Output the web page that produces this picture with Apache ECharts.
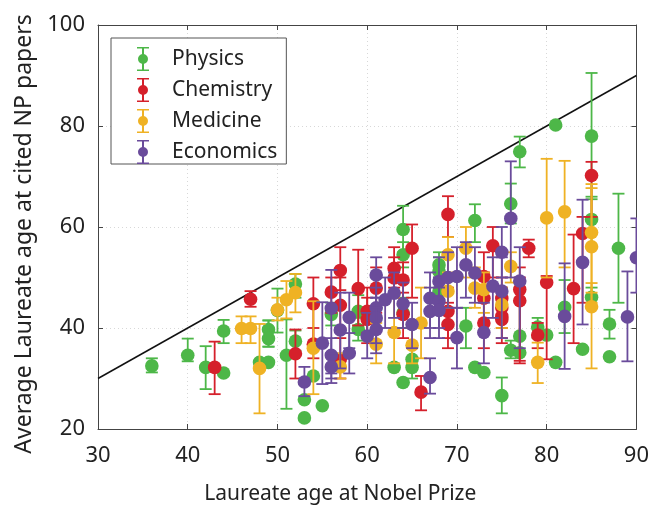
<!DOCTYPE html>
<html><head><meta charset="utf-8">
<script src="https://cdn.jsdelivr.net/npm/echarts@6/dist/echarts.min.js"></script>
<style>html,body{margin:0;padding:0;background:#fff}#c{width:652px;height:510px}</style>
</head><body><div id="c"></div>
<script>
// [age at prize, average age at cited papers, error low, error high]
const physics = [
[36,32.5,31.2,34.0],[40,34.6,33.4,37.9],[42,32.2,27.9,36.4],[44,31.1,31.1,31.1],[44,39.4,37.0,41.6],
[48,33.2,33.2,33.2],[49,33.2,33.2,33.2],[49,39.7,36.3,41.5],[49,37.9,36.3,41.5],[50,43.5,39.1,47.8],
[51,34.6,24.0,41.7],[52,48.7,46.0,50.7],[52,37.4,35.5,39.5],[53,25.8,25.8,25.8],[53,22.2,22.2,22.2],
[54,30.5,30.5,30.5],[55,24.6,24.6,24.6],[56,42.7,40.5,45.0],[59,43.3,40.5,46.5],[59,39.7,37.5,42.0],
[63,32.2,32.2,32.2],[64,29.2,29.2,29.2],[64,59.5,55.0,64.2],[64,54.5,52.0,57.0],[64,43.0,40.0,46.0],
[65,33.8,30.0,37.0],[65,32.2,32.2,32.2],[68,52.5,49.0,55.0],[68,51.2,49.0,54.0],[68,47.3,44.0,50.0],
[71,40.4,36.0,44.0],[72,61.3,57.0,64.5],[72,32.2,32.2,32.2],[73,31.2,31.2,31.2],[75,26.6,23.1,30.2],
[76,35.6,34.0,37.5],[76,64.6,60.7,68.6],[77,38.4,35.0,48.0],[77,35.1,35.1,35.1],[77,74.9,71.8,77.9],
[79,40.2,38.0,42.0],[80,38.6,38.6,38.6],[81,33.2,33.2,33.2],[81,80.2,80.2,80.2],[82,44.1,39.0,49.5],
[84,35.8,35.8,35.8],[85,46.1,44.0,48.0],[85,61.5,56.0,66.0],[85,78.0,65.5,90.5],[87,40.8,37.9,43.6],
[87,34.3,34.3,34.3],[88,55.8,45.0,66.6]
];
const chemistry = [
[43,32.2,26.9,37.3],[47,45.7,44.2,47.3],[52,34.9,30.0,39.7],[54,44.8,35.8,50.0],[54,36.8,34.0,40.0],
[56,47.1,43.0,50.0],[57,51.4,47.5,56.0],[57,44.5,40.0,50.0],[57,33.8,30.0,38.0],[59,47.8,40.5,55.5],
[60,43.3,39.0,48.0],[60,41.7,37.0,46.0],[61,47.9,43.0,52.0],[63,51.8,48.0,56.0],[63,49.9,46.0,54.0],
[64,49.5,45.0,53.0],[64,42.7,38.0,47.0],[65,55.8,46.0,60.5],[66,27.3,23.7,30.5],[69,62.5,58.0,66.1],
[69,43.3,38.0,48.0],[69,40.7,36.0,45.0],[73,50.2,46.0,55.0],[73,45.9,41.0,51.0],[73,41.0,36.0,46.0],
[74,56.3,50.0,60.0],[75,45.9,42.0,50.0],[75,44.0,40.0,48.0],[75,42.3,38.0,47.0],[75,41.7,37.0,46.0],
[77,47.6,33.0,52.0],[77,45.4,33.5,50.0],[78,55.8,54.0,57.5],[79,38.6,36.0,41.0],[80,49.0,33.8,50.3],
[83,47.8,37.0,58.5],[84,58.7,45.0,62.0],[85,70.2,62.0,72.9]
];
const medicine = [
[46,39.9,37.0,42.3],[47,39.9,37.0,42.3],[48,32.0,23.1,40.8],[50,43.6,41.5,46.0],[51,45.6,41.9,49.3],
[52,47.0,43.1,50.7],[54,36.0,26.9,45.3],[57,32.3,30.0,35.0],[61,36.8,33.0,41.0],[63,39.1,33.0,46.0],
[65,36.6,33.0,40.0],[66,41.0,34.0,48.0],[69,54.5,50.0,58.0],[69,47.3,44.0,51.0],[71,55.8,50.0,60.0],
[72,47.9,44.0,52.0],[73,47.6,43.0,51.0],[75,44.6,40.0,48.0],[76,52.2,49.0,55.0],[79,33.2,29.1,37.1],
[80,61.8,50.0,73.5],[82,63.0,52.0,73.1],[85,58.9,47.0,68.5],[85,56.1,45.0,67.7],[85,44.2,32.0,48.9]
];
const economics = [
[53,29.3,26.5,32.3],[55,37.0,28.9,45.1],[56,43.9,29.1,51.5],[56,34.6,31.0,38.0],[56,32.3,30.0,35.0],
[57,39.6,32.0,47.0],[58,42.1,36.0,47.0],[58,35.0,31.0,39.0],[60,38.4,34.0,43.0],[61,50.5,46.0,54.0],
[61,44.0,40.0,48.0],[61,42.0,37.0,46.0],[61,39.7,35.0,44.0],[62,45.6,40.0,50.0],[63,46.9,42.0,51.0],
[64,44.8,40.0,49.0],[65,40.7,36.0,45.0],[67,45.9,40.0,51.0],[67,43.3,38.0,48.0],[67,30.2,27.0,34.0],
[68,49.2,43.0,54.0],[68,45.3,40.0,50.0],[68,43.5,38.0,48.0],[69,50.0,44.0,55.0],[70,50.2,44.0,56.0],
[70,38.1,32.0,44.0],[71,52.5,46.0,57.0],[72,50.9,45.0,56.0],[73,39.1,33.0,45.0],[74,48.3,42.0,54.0],
[75,55.0,50.0,60.0],[75,47.3,38.0,54.0],[76,61.7,50.0,73.0],[77,49.3,36.0,56.0],[82,42.3,31.9,52.8],
[84,53.0,40.7,65.4],[89,42.2,33.4,51.2],[90,53.9,47.0,61.7]
];
const fields = ['Physics','Chemistry','Medicine','Economics'];
const fieldData = [physics, chemistry, medicine, economics];
const colors = ['#4db748','#d5202b','#efb224','#6a4b9b'];
const diagonal = [[30,30],[90,90]];
const xTicks = [30,90,10];
const yTicks = [20,100,20];

const FONT = 'Noto Sans';
const iconPath = 'path://M5 0h2v24h-2z M0 0h12v1.6h-12z M0 22.4h12v1.6h-12z M1 12A5 5 0 1 1 11 12A5 5 0 1 1 1 12Z';

function errRender(color){
  return function(params, api){
    const x = api.value(0), y = api.value(1), lo = api.value(2), hi = api.value(3);
    const p = api.coord([x,y]), pl = api.coord([x,lo]), ph = api.coord([x,hi]);
    const w = 6;
    const st = {stroke: color, lineWidth: 1.8};
    return {type:'group', children:[
      {type:'line', shape:{x1:p[0], y1:pl[1], x2:p[0], y2:ph[1]}, style:st},
      {type:'line', shape:{x1:p[0]-w, y1:pl[1], x2:p[0]+w, y2:pl[1]}, style:st},
      {type:'line', shape:{x1:p[0]-w, y1:ph[1], x2:p[0]+w, y2:ph[1]}, style:st},
      {type:'circle', shape:{cx:p[0], cy:p[1], r:6.8}, style:{fill:color}}
    ]};
  };
}

const chart = echarts.init(document.getElementById('c'), null, {renderer:'canvas'});
const series = [{
  type:'line', data: diagonal, symbol:'none', silent:true,
  lineStyle:{color:'#111', width:1.5}, z:1, animation:false
}];
fields.forEach((f,i)=>{
  series.push({
    name:f, type:'custom', data: fieldData[i], renderItem: errRender(colors[i]),
    encode:{x:0, y:[1,2,3]}, itemStyle:{color:colors[i]}, z:2+i, animation:false, clip:true
  });
});
const axisCommon = {
  axisLine:{show:true, onZero:false, lineStyle:{color:'#444', width:1}},
  axisTick:{show:true, inside:true, length:5, lineStyle:{color:'#444'}},
};
chart.setOption({
  animation:false,
  grid:{left:98, right:14, top:25, bottom:78},
  legend:{
    orient:'vertical', left:111, top:38,
    data: fields.map(f=>({name:f, icon:iconPath})),
    itemWidth:48, itemHeight:24, itemGap:7,
    padding:[9,9,0,26],
    borderColor:'#555', borderWidth:1, backgroundColor:'#fff',
    textStyle:{fontFamily:FONT, fontSize:21, color:'#222'}
  },
  xAxis:[{
    type:'value', min:xTicks[0], max:xTicks[1], interval:xTicks[2], position:'bottom',
    ...axisCommon,
    axisLabel:{fontFamily:FONT, fontSize:22, color:'#222', margin:16},
    splitLine:{show:true, lineStyle:{color:'#d8d8d8', type:[1,3], width:1}},
    name:'Laureate age at Nobel Prize', nameLocation:'middle', nameGap:55,
    nameTextStyle:{fontFamily:FONT, fontSize:21, color:'#222', padding:[0,54,0,0]}
  },{
    type:'value', min:xTicks[0], max:xTicks[1], interval:xTicks[2], position:'top',
    ...axisCommon, axisLabel:{show:false}, splitLine:{show:false}
  }],
  yAxis:[{
    type:'value', min:yTicks[0], max:yTicks[1], interval:yTicks[2], position:'left',
    ...axisCommon,
    axisLabel:{fontFamily:FONT, fontSize:22, color:'#222', margin:13},
    splitLine:{show:true, lineStyle:{color:'#d8d8d8', type:[1,3], width:1}},
    name:'Average Laureate age at cited NP papers', nameLocation:'middle', nameGap:58,
    nameTextStyle:{fontFamily:FONT, fontSize:23, color:'#222', padding:[0,14,0,0]}
  },{
    type:'value', min:yTicks[0], max:yTicks[1], interval:yTicks[2], position:'right',
    ...axisCommon, axisLabel:{show:false}, splitLine:{show:false}
  }],
  series: series
});
</script></body></html>
